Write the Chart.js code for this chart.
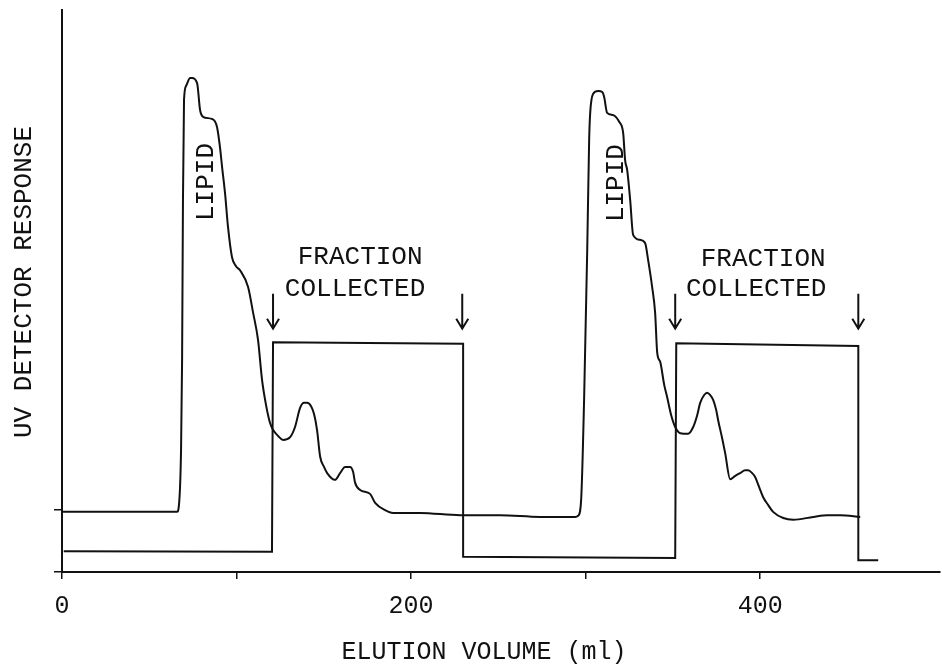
<!DOCTYPE html>
<html>
<head>
<meta charset="utf-8">
<script src="https://cdn.jsdelivr.net/npm/chart.js@4/dist/chart.umd.min.js"></script>
<style>
  html, body { margin: 0; padding: 0; background: #fff; }
  #wrap { width: 942px; height: 667px; position: relative; }
</style>
</head>
<body>
<div id="wrap"><canvas id="chromChart"></canvas></div>
<script>
// elution volume (ml) and UV response (arbitrary units, 0-100)
const chromVolume = [0, 65.9, 67.0, 68.2, 68.8, 69.3, 69.9, 71.1, 73.4, 74.5, 77.4, 79.1, 80.8, 86.0, 88.8,
  90.5, 91.7, 93.4, 95.1, 97.4, 99.7, 102.0, 106.6, 109.5, 112.3, 114.6, 116.9, 119.2, 120.9, 123.8,
  126.6, 130.7, 133.5, 136.4, 138.7, 140.4, 142.7, 144.4, 146.1, 147.9, 150.1, 151.9, 156.4, 159.3,
  162.2, 165.0, 166.8, 167.9, 170.8, 176.5, 179.4, 185.1, 189.7, 205.2, 228.1, 251.0, 273.9, 294.0,
  295.7, 297.4, 299.1, 300.9, 302.0, 302.6, 304.3, 307.2, 309.5, 310.6, 312.3, 315.8, 319.2, 321.5,
  322.6, 323.8, 325.5, 327.2, 331.2, 334.1, 335.8, 338.1, 339.8, 341.0, 342.7, 345.0, 346.7, 349.0,
  351.3, 354.2, 358.7, 361.6, 363.9, 365.6, 367.9, 369.6, 371.3, 373.1, 374.8, 375.9, 378.2, 379.9,
  382.8, 385.7, 388.5, 391.4, 393.1, 395.4, 397.1, 399.4, 401.7, 404.6, 407.4, 413.2, 418.9, 430.4,
  438.4, 445.9, 457.3];
const chromResponse = [10.7, 10.7, 11.9, 21.7, 37.7, 66.2, 84.0, 86.5, 87.9, 87.9, 87.0, 82.2, 81.0, 80.6, 79.2,
  75.6, 72.1, 67.4, 61.4, 56.0, 54.4, 53.7, 50.7, 46.1, 41.3, 34.2, 29.7, 26.5, 25.3, 24.2,
  23.5, 24.0, 25.8, 29.2, 30.1, 30.1, 29.5, 28.1, 25.3, 20.5, 18.7, 17.6, 16.4, 17.6,
  18.7, 18.7, 17.8, 15.9, 14.6, 13.9, 12.3, 11.0, 10.5, 10.5, 10.1, 10.1, 9.8, 9.8,
  10.0, 12.8, 30.6, 57.3, 76.9, 81.7, 85.1, 85.6, 85.4, 84.5, 81.7, 81.3, 80.1, 78.1,
  73.3, 71.5, 66.2, 60.0, 59.1, 58.5, 55.5, 50.7, 46.1, 39.0, 37.4, 33.3, 31.1, 27.9,
  25.8, 24.7, 24.6, 25.8, 27.9, 30.1, 31.5, 31.9, 31.5, 30.6, 28.8, 27.0, 23.8, 21.2,
  16.5, 17.1, 17.6, 18.1, 18.1, 17.6, 16.9, 15.1, 13.3, 11.9, 10.7, 9.6, 9.3, 9.8,
  10.1, 10.1, 9.8];

// fraction collector signal (step trace)
const fracVolume = [1, 120.3, 120.9, 229.8, 229.8, 351.3, 351.9, 456.2, 456.2, 467.6];
const fracResponse = [3.7, 3.6, 40.9, 40.6, 2.7, 2.5, 40.7, 40.2, 2.1, 2.1];

const xTickValues = [0, 100, 200, 300, 400];
const xTickLabels = ['0', '', '200', '', '400'];
const yTickValues = [0, 11];

// collection start / stop marks (ml)
const arrowVolume = [120.9, 229.3, 351.3, 456.2];

const FONT = "'Liberation Mono', 'DejaVu Sans Mono', monospace";
const INK = '#111';

const notes = [
  { text: 'LIPID', x: 82.5, y: 69.4, rot: true },
  { text: 'LIPID', x: 317.5, y: 69.2, rot: true },
  { text: 'FRACTION', x: 170.8, y: 56.0 },
  { text: 'COLLECTED', x: 167.9, y: 50.4 },
  { text: 'FRACTION', x: 401.7, y: 55.7 },
  { text: 'COLLECTED', x: 397.7, y: 50.4 }
];

const toPoints = (xs, ys) => xs.map((v, i) => ({ x: v, y: ys[i] }));

// draws the labels, arrows and axis titles
const annotate = {
  id: 'annotate',
  afterDatasetsDraw(chart) {
    const ctx = chart.ctx;
    const xs = chart.scales.x, ys = chart.scales.y;
    ctx.save();
    ctx.fillStyle = INK;
    ctx.strokeStyle = INK;
    ctx.font = '26px ' + FONT;
    ctx.textAlign = 'center';
    ctx.textBaseline = 'middle';
    notes.forEach(n => {
      const px = xs.getPixelForValue(n.x), py = ys.getPixelForValue(n.y);
      ctx.save();
      ctx.translate(px, py);
      if (n.rot) ctx.rotate(-Math.PI / 2);
      ctx.fillText(n.text, 0, 0);
      ctx.restore();
    });

    // arrows
    ctx.lineWidth = 2;
    arrowVolume.forEach(v => {
      const px = xs.getPixelForValue(v);
      const top = ys.getPixelForValue(49.5), bot = ys.getPixelForValue(43.3);
      ctx.beginPath();
      ctx.moveTo(px, top);
      ctx.lineTo(px, bot);
      ctx.moveTo(px - 6, bot - 10);
      ctx.lineTo(px, bot);
      ctx.lineTo(px + 6, bot - 10);
      ctx.stroke();
    });

    // axis titles
    ctx.font = '26px ' + FONT;
    ctx.save();
    ctx.translate(24, 282);
    ctx.rotate(-Math.PI / 2);
    ctx.fillText('UV DETECTOR RESPONSE', 0, 0);
    ctx.restore();
    ctx.font = '25px ' + FONT;
    ctx.fillText('ELUTION VOLUME (ml)', 484, 652);
    ctx.restore();
  }
};

new Chart(document.getElementById('chromChart'), {
  type: 'scatter',
  data: {
    datasets: [
      {
        label: 'UV response',
        data: toPoints(chromVolume, chromResponse),
        showLine: true,
        borderColor: INK,
        borderWidth: 2,
        pointRadius: 0,
        cubicInterpolationMode: 'monotone'
      },
      {
        label: 'Fraction collected',
        data: toPoints(fracVolume, fracResponse),
        showLine: true,
        borderColor: INK,
        borderWidth: 2,
        pointRadius: 0,
        tension: 0
      }
    ]
  },
  options: {
    responsive: true,
    maintainAspectRatio: false,
    animation: false,
    layout: { padding: { top: 10, right: 2, left: 0, bottom: 0 } },
    plugins: { legend: { display: false }, tooltip: { enabled: false } },
    scales: {
      x: {
        type: 'linear',
        min: 0,
        max: 503,
        afterFit: s => { s.height = 95; },
        afterBuildTicks: s => { s.ticks = xTickValues.map(v => ({ value: v })); },
        ticks: {
          callback: (v) => { const i = xTickValues.indexOf(v); return i >= 0 ? xTickLabels[i] : ''; },
          font: { family: FONT, size: 25 },
          color: INK,
          padding: 12,
          maxRotation: 0,
          autoSkip: false
        },
        grid: { drawOnChartArea: false, drawTicks: true, tickLength: 7, color: INK, lineWidth: 1.5 },
        border: { display: true, color: INK, width: 2 }
      },
      y: {
        type: 'linear',
        min: 0,
        max: 100,
        afterFit: s => { s.width = 62; },
        afterBuildTicks: s => { s.ticks = yTickValues.map(v => ({ value: v })); },
        ticks: { display: false },
        grid: { drawOnChartArea: false, drawTicks: true, tickLength: 8, color: INK, lineWidth: 1.5 },
        border: { display: true, color: INK, width: 2 }
      }
    }
  },
  plugins: [annotate]
});
</script>
</body>
</html>
